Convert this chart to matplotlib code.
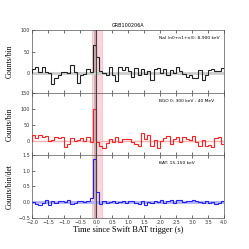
import numpy as np
import matplotlib
matplotlib.use("Agg")
import matplotlib.pyplot as plt

title = "GRB100206A"
t_start, t_stop, bin_w = -2.0, 4.0, 0.1

nai_counts = [10, 15, 2, 14, 3, 0, -24, -10, -5, 3, 2, 0, 20, 2, -22, -3, -2, 10, 2, 66,
              38, 5, 0, -3, 14, -3, -18, 14, 8, 14, 5, -8, 12, -5, 10, -2, 5, -16, 10, 12,
              0, 10, -3, 8, 0, 15, 5, -2, -8, -3, -12, -10, 8, -15, -5, 8, 10, 6, 5, 13]
bgo_counts = [18, 8, 18, 12, 14, 0, 3, 10, 8, 10, -20, -10, 8, -2, 3, 8, 0, 10, -3, 98,
              -3, -18, -22, -8, 5, -3, 10, -5, 5, 5, 4, -5, -10, -15, 25, 5, 18, -15, 3, -22,
              0, 8, 14, -10, 5, 10, -5, 12, 5, 3, 15, -5, -15, 2, -18, -12, -20, 8, 10, -10]
bat_rate = [0.0, -0.05, -0.08, -0.02, 0.05, -0.1, 0.02, -0.02, 0.02, 0.03, 0.0, 0.05, -0.05,
            -0.03, 0.02, 0.03, 0.0, 0.02, 0.13, 1.37, 0.32, -0.05, 0.02, -0.02, 0.0, 0.02,
            -0.03, 0.0, 0.03, -0.02, 0.02, 0.03, -0.02, -0.05, 0.02, -0.08, 0.0, -0.03, 0.03,
            0.0, 0.05, -0.02, 0.04, 0.08, -0.02, 0.06, 0.06, 0.0, 0.02, 0.04, 0.05, 0.03, 0.0,
            -0.03, 0.02, -0.03, 0.0, -0.05, -0.03, 0.02]

labels = ["NaI (n0+n1+n3): 8-900 keV", "BGO 0: 300 keV - 40 MeV", "BAT: 15-150 keV"]
ylabels = ["Counts/bin", "Counts/bin", "Counts/bin/det"]
ylims = [(-45, 100), (-45, 150), (-0.5, 1.5)]
yticks = [[0, 50, 100], [0, 50, 100, 150], [-0.5, 0.0, 0.5, 1.0, 1.5]]
colors = ["#222222", "#ff2020", "#2020ff"]
zero_colors = ["#cccccc", "#ffb0b0", "#b0b0ff"]
zero_lw = [2.0, 1.0, 2.0]
xticks = np.arange(-2.0, 4.01, 0.5)

shade_red = (-0.115, 0.18)
shade_grey = (-0.07, 0.035)

edges = np.round(np.arange(t_start, t_stop + bin_w / 2, bin_w), 3)

fig = plt.figure(figsize=(2.49, 2.49), dpi=100)
left, right = 0.1285, 0.90
bottom, top = 0.126, 0.879
h = (top - bottom) / 3
series = [nai_counts, bgo_counts, bat_rate]
axes = []
for i in range(3):
    ax = fig.add_axes([left, top - (i + 1) * h, right - left, h])
    axes.append(ax)
    ax.axvspan(*shade_red, facecolor="#ffd0d8", edgecolor="#ffb0bc", lw=0.5, alpha=0.9, zorder=0)
    ax.axvspan(*shade_grey, facecolor="#999999", alpha=0.55, lw=0, zorder=1)
    ax.axhline(0, color=zero_colors[i], lw=zero_lw[i], zorder=2)
    ax.stairs(series[i], edges, color=colors[i], lw=0.8, zorder=3)
    ax.axvline(0.0, color="#444444", lw=0.8, zorder=4)
    ax.set_xlim(t_start, t_stop)
    ax.set_ylim(*ylims[i])
    ax.set_yticks(yticks[i])
    ax.set_xticks(xticks)
    ax.tick_params(direction="in", top=True, right=False, length=2, width=0.5,
                   labelsize=3.5, pad=1.5, colors="#333333")
    for s in ax.spines.values():
        s.set_linewidth(0.5)
        s.set_color("#555555")
    ax.set_ylabel(ylabels[i], family="Liberation Serif", fontsize=5.5, labelpad=2)
    ax.text(0.66, 0.87, labels[i], transform=ax.transAxes, fontsize=3.2,
            ha="left", va="center")
    if i < 2:
        ax.tick_params(labelbottom=False)
    if i == 2:
        ax.set_yticklabels(["\u22120.5", "0.0", "0.5", "1.0", "1.5"])

axes[0].set_title(title, fontsize=3.5, pad=2)
axes[2].set_xticklabels([f"{v:.1f}".replace("-", "\u2212") for v in xticks])
axes[2].set_xlabel("Time since Swift BAT trigger (s)", family="Liberation Serif",
                   fontsize=6, labelpad=1)
for ax in axes:
    ax.yaxis.set_label_coords(-0.095, 0.5)

fig.savefig("out.png", dpi=100)
